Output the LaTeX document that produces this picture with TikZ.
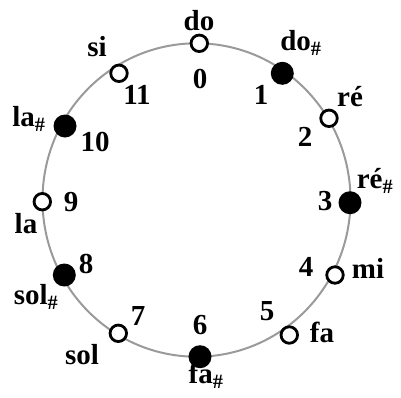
\documentclass[tikz,border=0pt]{standalone}
\usepackage{fontspec}
\setmainfont{Liberation Serif}
\usepackage{xcolor}
\definecolor{cRing}{HTML}{9A9A9A}
\definecolor{cKey}{HTML}{000000}
\usepackage{tikz}
\usetikzlibrary{positioning}
\newcommand{\shp}{\textsubscript{\#}}
\tikzset{
  key-white/.style={circle,draw=cKey,line width=2.8pt,fill=white,
    minimum size=16.5pt,inner sep=0pt},
  key-black/.style={circle,fill=cKey,minimum size=23pt,inner sep=0pt},
  note-name/.style={font=\fontsize{29}{32}\selectfont\bfseries,inner sep=0pt},
  pc-num/.style={font=\fontsize{29}{32}\selectfont\bfseries,inner sep=0pt},
  ring/.style={draw=cRing,line width=2pt},
}
\begin{document}
\begin{tikzpicture}[x=1pt,y=-1pt]
  \useasboundingbox (0,0) rectangle (401,397);
  % le cercle chromatique
  \coordinate (o) at (196.5,200);
  \draw[ring] (o) ellipse [x radius=154, y radius=156.7];
  % les douze touches
  \node[key-white] (k0)  at (199.3,43.3)  {};
  \node[key-black] (k1)  at (282.3,73.3)  {};
  \node[key-white] (k2)  at (329,118.3)   {};
  \node[key-black] (k3)  at (350,202.7)   {};
  \node[key-white] (k4)  at (335,275)     {};
  \node[key-white] (k5)  at (289.3,335)   {};
  \node[key-black] (k6)  at (200,356.7)   {};
  \node[key-white] (k7)  at (118.3,333.3) {};
  \node[key-black] (k8)  at (64.3,275)    {};
  \node[key-white] (k9)  at (42.3,201.7)  {};
  \node[key-black] (k10) at (65,126)      {};
  \node[key-white] (k11) at (119,73.3)    {};
  % noms des notes
  \node[note-name] (t0)  at (199,21)  {do};
  \node[note-name] (t1)  at (301,43)  {do\shp};
  \node[note-name] (t2)  at (350,97)  {ré};
  \node[note-name] (t3)  at (375,181) {ré\shp};
  \node[note-name] (t4)  at (368,268) {mi};
  \node[note-name] (t5)  at (322,332) {fa};
  \node[note-name] (t6)  at (206,376) {fa\shp};
  \node[note-name] (t7)  at (82,355)  {sol};
  \node[note-name] (t8)  at (36,297)  {sol\shp};
  \node[note-name] (t9)  at (26,224)  {la};
  \node[note-name] (t10) at (29,119)  {la\shp};
  \node[note-name] (t11) at (97,47)   {si};
  % numeros
  \node[pc-num] (p0)  at (200,79)  {0};
  \node[pc-num] (p1)  at (261,95)  {1};
  \node[pc-num] (p2)  at (305,137) {2};
  \node[pc-num] (p3)  at (325,201) {3};
  \node[pc-num] (p4)  at (306,267) {4};
  \node[pc-num] (p5)  at (267,311) {5};
  \node[pc-num] (p6)  at (200,325) {6};
  \node[pc-num] (p7)  at (138,316) {7};
  \node[pc-num] (p8)  at (86,264)  {8};
  \node[pc-num] (p9)  at (71,202)  {9};
  \node[pc-num] (p10) at (95,142)  {10};
  \node[pc-num] (p11) at (137,95)  {11};
\end{tikzpicture}
\end{document}
